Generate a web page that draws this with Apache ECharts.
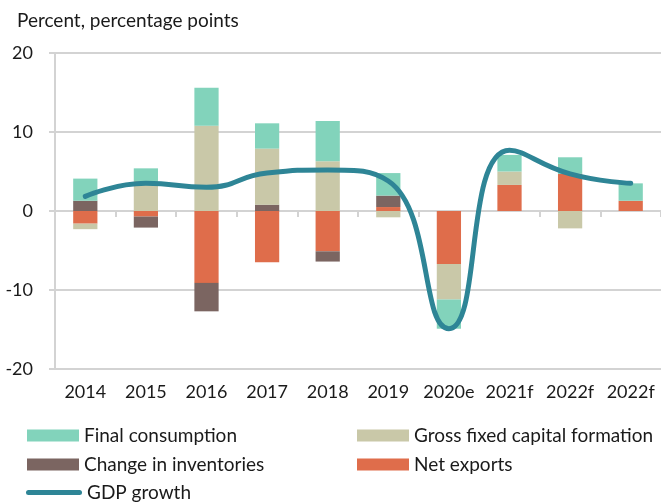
<!DOCTYPE html>
<html>
<head>
<meta charset="utf-8">
<script src="https://cdn.jsdelivr.net/npm/echarts@6/dist/echarts.min.js"></script>
<style>
  html, body { margin: 0; padding: 0; background: #fff; }
  #chart { width: 661px; height: 502px; }
</style>
</head>
<body>
<div id="chart"></div>
<script>
// categories (the last label really is repeated in the source)
const categories = ['2014', '2015', '2016', '2017', '2018', '2019', '2020e', '2021f', '2022f', '2022f'];
// contributions, percentage points
const finalConsumption = [2.8, 1.6, 4.8, 3.2, 5.1, 2.85, -3.7, 2.1, 2.1, 2.2];
const grossFixedCapital = [-0.7, 3.8, 10.8, 7.1, 6.3, -0.8, -4.5, 1.7, -2.2, 0];
const changeInInventories = [1.3, -1.4, -3.6, 0.8, -1.3, 1.45, 0, 0, 0, 0];
const netExports = [-1.6, -0.7, -9.1, -6.5, -5.1, 0.5, -6.7, 3.3, 4.7, 1.3];
// GDP growth, percent
const gdpGrowth = [1.85, 3.5, 3.0, 4.8, 5.2, 3.8, -14.9, 7.7, 4.7, 3.5];
const yTicks = { min: -20, max: 20, interval: 10 };

const FONT = 'Lato';
const GRID_GREY = '#d3d3d3';
const LINE_COLOR = '#2e8596';

const chart = echarts.init(document.getElementById('chart'));

function barSeries(name, data, color) {
  return {
    name: name,
    type: 'bar',
    stack: 'total',
    xAxisIndex: 0,
    barWidth: '40%',
    itemStyle: { color: color },
    data: data
  };
}

const legendText = { fontFamily: FONT, fontSize: 19, color: '#1a1a1a' };

const option = {
  animation: false,
  title: {
    text: 'Percent, percentage points',
    left: 12,
    top: 6,
    textStyle: { fontFamily: FONT, fontSize: 19, fontWeight: 'normal', color: '#1a1a1a' }
  },
  grid: { left: 55, right: -2, top: 53, bottom: 133, containLabel: false },
  legend: [
    {
      data: ['Final consumption', 'Change in inventories'],
      orient: 'vertical',
      left: 22, top: 421,
      itemWidth: 52, itemHeight: 12, itemGap: 10,
      icon: 'rect',
      textStyle: legendText
    },
    {
      data: ['Gross fixed capital formation', 'Net exports'],
      orient: 'vertical',
      left: 352, top: 421,
      itemWidth: 52, itemHeight: 12, itemGap: 10,
      icon: 'rect',
      textStyle: legendText
    },
    {
      // rounded bar drawn as the line key
      data: [{ name: 'GDP growth', icon: 'path://M2.5,0H53.5A2.5,2.5,0,0,1,53.5,5H2.5A2.5,2.5,0,0,1,2.5,0Z' }],
      left: 21, top: 478,
      itemWidth: 56, itemHeight: 5,
      itemStyle: { color: LINE_COLOR },
      textStyle: legendText
    }
  ],
  xAxis: [
    {
      type: 'category',
      data: categories,
      axisLine: { onZero: true, lineStyle: { color: GRID_GREY, width: 2 } },
      axisTick: { show: true, length: 6, lineStyle: { color: GRID_GREY, width: 2 } },
      axisLabel: { show: false }
    },
    {
      type: 'category',
      data: categories,
      position: 'bottom',
      axisLine: { show: false, onZero: false },
      axisTick: { show: false },
      axisLabel: { interval: 0, fontFamily: FONT, fontSize: 18, color: '#1a1a1a', margin: 14 }
    }
  ],
  yAxis: {
    type: 'value',
    min: yTicks.min,
    max: yTicks.max,
    interval: yTicks.interval,
    axisLine: { show: true, lineStyle: { color: GRID_GREY, width: 2 } },
    axisTick: { show: true, length: 6, lineStyle: { color: GRID_GREY, width: 2 } },
    splitLine: { lineStyle: { color: GRID_GREY, width: 2 } },
    axisLabel: { fontFamily: FONT, fontSize: 18, color: '#1a1a1a', margin: 22 }
  },
  series: [
    // stacking order follows the picture: net exports nearest zero
    barSeries('Net exports', netExports, '#df6d4b'),
    barSeries('Change in inventories', changeInInventories, '#7b6561'),
    barSeries('Gross fixed capital formation', grossFixedCapital, '#c9c8a8'),
    barSeries('Final consumption', finalConsumption, '#82d3bb'),
    {
      name: 'GDP growth',
      type: 'line',
      xAxisIndex: 0,
      smooth: 0.5,
      symbol: 'none',
      z: 5,
      lineStyle: { color: LINE_COLOR, width: 5, cap: 'round' },
      itemStyle: { color: LINE_COLOR },
      data: gdpGrowth
    }
  ]
};

chart.setOption(option);
</script>
</body>
</html>
